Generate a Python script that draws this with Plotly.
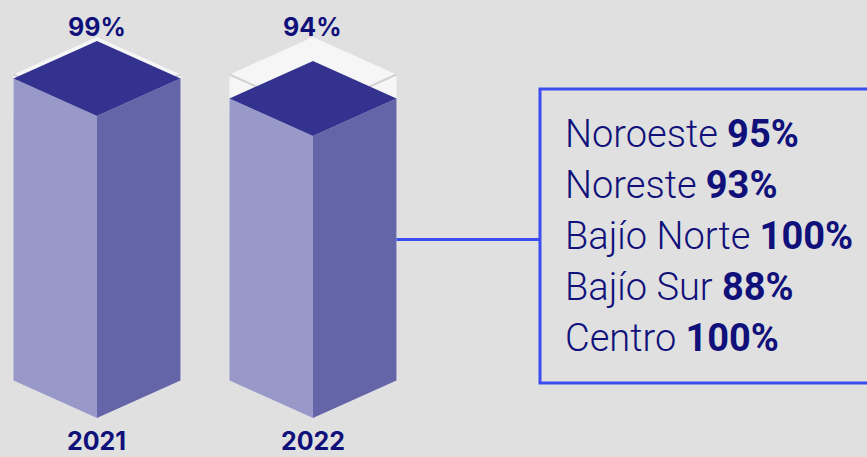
import plotly.graph_objects as go

# datos
years = ["2021", "2022"]
nivel = [99, 94]
regiones = ["Noroeste", "Noreste", "Bajío Norte", "Bajío Sur", "Centro"]
reg_pct = [95, 93, 100, 88, 100]

# colores
top_col = "#33338f"
left_col = "#9898c9"
right_col = "#6464a9"
ghost_col = "#f6f6f6"
navy = "#10107a"
box_col = "#3b4cf0"

# geometria (unidades de los ejes)
hw = 0.3866      # medio ancho de la barra
d = 9.375        # medio alto del rombo superior
base = 4.75      # vertice frontal inferior
full = 100
box_x = 2.051    # borde izquierdo del recuadro


def prism(c, v):
    T = (c, v)
    L = (c - hw, v - d)
    R = (c + hw, v - d)
    F = (c, v - 2 * d)
    BL = (c - hw, base + d)
    BF = (c, base)
    BR = (c + hw, base + d)
    return {
        "left": [L, F, BF, BL],
        "right": [F, R, BR, BF],
        "top": [T, R, F, L],
    }


def poly(pts, color):
    xs = [p[0] for p in pts] + [pts[0][0]]
    ys = [p[1] for p in pts] + [pts[0][1]]
    return go.Scatter(x=xs, y=ys, fill="toself", fillcolor=color, mode="lines",
                      line=dict(width=0, color=color), hoverinfo="skip", showlegend=False)


fig = go.Figure()

for i, (yr, v) in enumerate(zip(years, nivel)):
    g = prism(i, full)
    # fantasma 100%
    fig.add_trace(poly(g["left"], ghost_col))
    fig.add_trace(poly(g["right"], ghost_col))
    fig.add_trace(poly(g["top"], ghost_col))
    fig.add_trace(go.Scatter(x=[g["top"][3][0], g["top"][2][0], g["top"][1][0]],
                             y=[g["top"][3][1], g["top"][2][1], g["top"][1][1]],
                             mode="lines", line=dict(color="#d2d2d2", width=2),
                             hoverinfo="skip", showlegend=False))
    p = prism(i, v)
    fig.add_trace(poly(p["left"], left_col))
    fig.add_trace(poly(p["right"], right_col))
    fig.add_trace(poly(p["top"], top_col))

    fig.add_annotation(x=i, y=full, text=f"<b>{v}%</b>", showarrow=False,
                       yanchor="bottom", yshift=-7,
                       font=dict(family="Inter", size=25, color=navy))
    fig.add_annotation(x=i, y=base, text=f"<b>{yr}</b>", showarrow=False,
                       yanchor="top", yshift=-7, borderpad=0,
                       font=dict(family="Inter", size=25, color=navy))

# conector desde la barra 2022 hasta el recuadro
last = len(nivel) - 1
y_mid = ((nivel[last] - d) + (base + d)) / 2
fig.add_trace(go.Scatter(x=[last + hw, box_x], y=[y_mid, y_mid], mode="lines",
                         line=dict(color=box_col, width=3), hoverinfo="skip", showlegend=False))

# recuadro
fig.add_shape(type="rect", xref="x", yref="paper", x0=box_x, x1=4.0,
              y0=1 - 383 / 457, y1=1 - 89 / 457, line=dict(color=box_col, width=3),
              fillcolor="rgba(0,0,0,0)")

for k, (r, pct) in enumerate(zip(regiones, reg_pct)):
    fig.add_annotation(xref="paper", yref="paper", x=563 / 867, y=1 - (134 + 51 * k) / 457,
                       xanchor="left", yanchor="middle", showarrow=False,
                       text=f"{r} <b>{pct}%</b>",
                       font=dict(family="Roboto", size=38, weight=300, color=navy))

fig.update_layout(
    width=867, height=457,
    margin=dict(l=0, r=0, t=0, b=0),
    paper_bgcolor="#e0e0e0", plot_bgcolor="#e0e0e0",
    xaxis=dict(range=[-0.449, 3.565], visible=False, fixedrange=True),
    yaxis=dict(range=[-5, 109.25], visible=False, fixedrange=True),
    showlegend=False,
)

fig.write_html("out.html", config={"displayModeBar": False},
               post_script="document.body.style.margin='0';")
